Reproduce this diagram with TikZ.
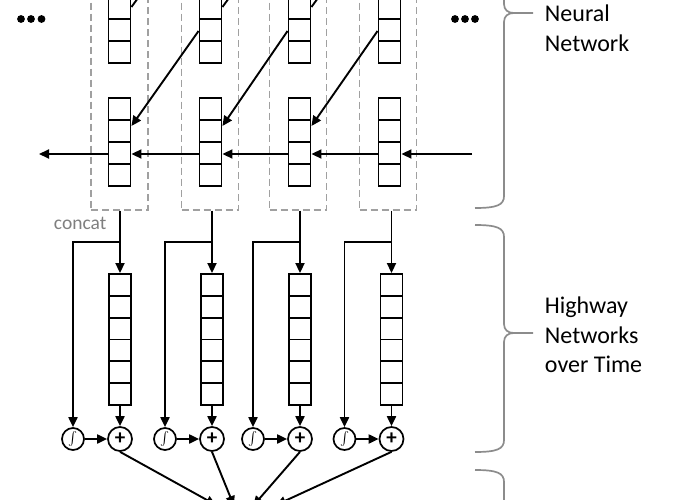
\documentclass[tikz,border=0pt]{standalone}
\usepackage{fontspec}
\setmainfont{Carlito}
\usetikzlibrary{arrows.meta,calc}
\definecolor{dashgray}{HTML}{A0A0A0}
\definecolor{bracegray}{HTML}{8C8C8C}
\definecolor{textgray}{HTML}{7F7F7F}
\newcommand\mybrace[3]{%
 \draw[bracestyle] (475,#1) .. controls (497,#1) and (504,#1+3) .. (504,#1+12) -- (504,#2-9) .. controls (504,#2-3) and (508,#2) .. (514,#2) -- (533,#2);
 \draw[bracestyle] (514,#2) .. controls (508,#2) and (504,#2+3) .. (504,#2+9) -- (504,#3-12) .. controls (504,#3-3) and (497,#3) .. (475,#3);}
\begin{document}
\begin{tikzpicture}[x=1pt,y=-1pt,line width=1.9pt,
  arr/.style={-{Triangle[length=10pt,width=9pt]},line width=1.9pt},
  vecfour/.style={draw,line width=1.9pt,minimum width=22pt,minimum height=88pt,inner sep=0pt,
    path picture={\foreach \k in {1,2,3}{\draw[line width=1.9pt] ([yshift=-\k*22pt]path picture bounding box.north west) -- ([yshift=-\k*22pt]path picture bounding box.north east);}}},
  vecsix/.style={draw,line width=1.9pt,minimum width=22pt,minimum height=131pt,inner sep=0pt,
    path picture={\foreach \k in {1,...,5}{\draw[line width=1.9pt] ([yshift=-\k*21.833pt]path picture bounding box.north west) -- ([yshift=-\k*21.833pt]path picture bounding box.north east);}}},
  dbox/.style={draw=dashgray,line width=1.6pt,dash pattern=on 7pt off 4pt,minimum width=57pt,minimum height=250pt,inner sep=0pt},
  gate/.style={circle,draw,line width=1.7pt,minimum size=22pt,inner sep=0pt},
  plusnode/.style={circle,draw,line width=1.7pt,minimum size=24pt,inner sep=0pt,font=\bfseries\fontsize{21}{21}\selectfont},
  bracestyle/.style={draw=bracegray,line width=1.7pt},
  dotnode/.style={circle,fill,minimum size=7.8pt,inner sep=0pt},
  label/.style={font=\fontsize{24}{29.5}\selectfont,align=left,inner sep=0pt,anchor=north west}
]
\useasboundingbox (0,0) rectangle (680,500);
\clip (0,0) rectangle (680,500);

% dashed boxes
\foreach \i/\dx in {1/119.5,2/210,3/298,4/388}{
  \node[dbox] (d\i) at (\dx,84.75) {};
}
% stacks and gates
\foreach \i/\x/\hx in {1/119.5/120,2/210.5/212,3/299.5/300,4/389.5/391.5}{
  \node[vecfour] (t\i) at (\x,19) {};
  \node[vecfour] (l\i) at (\x,142) {};
  \node[vecsix] (h\i) at (\hx,339.5) {};
  \node[gate] (g\i) at (\hx-47,439) {\scalebox{1.35}{$\int$}};
  \node[plusnode] (p\i) at (\hx,439) {+};
}

% dots
\node[dotnode] (dl1) at (21,19) {};
\node[dotnode] (dl2) at (31,19) {};
\node[dotnode] (dl3) at (41.5,19) {};
\node[dotnode] (dr1) at (455,19) {};
\node[dotnode] (dr2) at (465,19) {};
\node[dotnode] (dr3) at (475,19) {};

% recurrent horizontal arrows
\coordinate (inR) at (472,154);
\coordinate (outL) at (39,154);
\draw[arr] (inR) -- ($(l4.east)+(0,12)$);
\draw[arr] ($(l4.west)+(0,12)$) -- ($(l3.east)+(0,12)$);
\draw[arr] ($(l3.west)+(0,12)$) -- ($(l2.east)+(0,12)$);
\draw[arr] ($(l2.west)+(0,12)$) -- ($(l1.east)+(0,12)$);
\draw[arr] ($(l1.west)+(0,12)$) -- (outL);

% diagonal arrows
\draw[arr] ($(t2.west)+(0,12)$) -- ($(l1.east)+(0,-16)$);
\draw[arr] ($(t3.west)+(0,12)$) -- ($(l2.east)+(0,-16)$);
\draw[arr] ($(t4.west)+(0,12)$) -- ($(l3.east)+(0,-16)$);
% stubs from above
\foreach \i in {1,2,3}{
  \draw ($(t\i.east)+(0,-12)$) -- ++(8,-11);
}

% concat label
\node[font=\fontsize{19.5}{19.5}\selectfont,text=textgray,anchor=base west,inner sep=0pt] (concat) at (53,229) {concat};

% highway connections
\foreach \i in {1,2,3,4}{
  \draw[arr] (d\i.south -| h\i.north) -- (h\i.north);
  \draw[arr] ($(d\i.south -| h\i.north)+(0,31)$) -| (g\i.north);
  \draw[arr] (h\i.south) -- (p\i.north);
  \draw[arr] (g\i.east) -- (p\i.west);
}

% outputs
\coordinate (e1) at (216,505);
\coordinate (e2) at (234,506);
\coordinate (e3) at (253,506);
\coordinate (e4) at (276,505);
\foreach \i in {1,2,3,4}{
  \draw[arr] (p\i.south) -- (e\i);
}

% braces
\mybrace{-200}{13}{208}
\mybrace{225}{333}{452}
\draw[bracestyle] (475,470) .. controls (497,470) and (504,473) .. (504,482) -- (504,520);

% labels
\node[label] (nn) at (544,4) {Neural\\Network};
\node[label] (hw) at (544,296) {Highway\\Networks\\over Time};
\end{tikzpicture}
\end{document}
